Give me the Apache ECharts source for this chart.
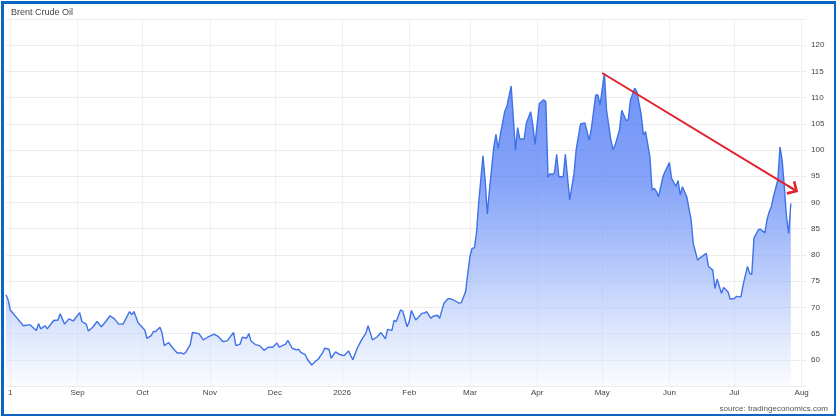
<!DOCTYPE html>
<html>
<head>
<meta charset="utf-8">
<script src="https://cdn.jsdelivr.net/npm/echarts@6/dist/echarts.min.js"></script>
<style>
  html, body { margin: 0; padding: 0; background: #fff; }
  #chart { width: 836px; height: 416px; }
</style>
</head>
<body>
<div id="chart"></div>
<script>
// ---- Data ----
const dates = [
  '2025-07-30','2025-07-31','2025-08-01','2025-08-04','2025-08-07','2025-08-10','2025-08-13','2025-08-14','2025-08-15','2025-08-17',
  '2025-08-18','2025-08-21','2025-08-23','2025-08-24','2025-08-26','2025-08-28','2025-08-30','2025-09-02','2025-09-03','2025-09-05',
  '2025-09-06','2025-09-08','2025-09-10','2025-09-12','2025-09-14','2025-09-16','2025-09-18','2025-09-20','2025-09-22','2025-09-25',
  '2025-09-26','2025-09-27','2025-09-29','2025-10-02','2025-10-03','2025-10-05','2025-10-06','2025-10-07','2025-10-09','2025-10-10',
  '2025-10-11','2025-10-13','2025-10-15','2025-10-17','2025-10-19','2025-10-20','2025-10-21','2025-10-23','2025-10-24','2025-10-27',
  '2025-10-29','2025-10-31','2025-11-03','2025-11-05','2025-11-07','2025-11-09','2025-11-12','2025-11-13','2025-11-15','2025-11-16',
  '2025-11-18','2025-11-19','2025-11-20','2025-11-22','2025-11-24','2025-11-26','2025-11-28','2025-11-30','2025-12-02','2025-12-03',
  '2025-12-06','2025-12-07','2025-12-09','2025-12-11','2025-12-12','2025-12-13','2025-12-15','2025-12-16','2025-12-18','2025-12-20',
  '2025-12-21','2025-12-23','2025-12-24','2025-12-26','2025-12-27','2025-12-29','2025-12-31','2026-01-02','2026-01-04','2026-01-05',
  '2026-01-06','2026-01-08','2026-01-10','2026-01-12','2026-01-13','2026-01-15','2026-01-17','2026-01-19','2026-01-21','2026-01-22',
  '2026-01-24','2026-01-25','2026-01-26','2026-01-28','2026-01-29','2026-01-31','2026-02-01','2026-02-02','2026-02-04','2026-02-05',
  '2026-02-07','2026-02-08','2026-02-09','2026-02-11','2026-02-12','2026-02-14','2026-02-15','2026-02-17','2026-02-19','2026-02-21',
  '2026-02-24','2026-02-25','2026-02-27','2026-02-28','2026-03-01','2026-03-02','2026-03-03','2026-03-04','2026-03-05','2026-03-07',
  '2026-03-08','2026-03-09','2026-03-10','2026-03-12','2026-03-13','2026-03-14','2026-03-15','2026-03-17','2026-03-18','2026-03-20',
  '2026-03-22','2026-03-23','2026-03-24','2026-03-26','2026-03-27','2026-03-29','2026-03-30','2026-03-31','2026-04-02','2026-04-04',
  '2026-04-05','2026-04-06','2026-04-07','2026-04-08','2026-04-09','2026-04-10','2026-04-11','2026-04-13','2026-04-14','2026-04-16',
  '2026-04-18','2026-04-19','2026-04-21','2026-04-23','2026-04-25','2026-04-26','2026-04-28','2026-04-29','2026-04-30','2026-05-02',
  '2026-05-03','2026-05-05','2026-05-06','2026-05-07','2026-05-09','2026-05-10','2026-05-12','2026-05-13','2026-05-14','2026-05-16',
  '2026-05-17','2026-05-19','2026-05-20','2026-05-21','2026-05-23','2026-05-24','2026-05-25','2026-05-26','2026-05-27','2026-05-29',
  '2026-05-30','2026-06-01','2026-06-02','2026-06-04','2026-06-05','2026-06-06','2026-06-07','2026-06-09','2026-06-11','2026-06-12',
  '2026-06-14','2026-06-15','2026-06-18','2026-06-19','2026-06-21','2026-06-22','2026-06-23','2026-06-25','2026-06-26','2026-06-28',
  '2026-06-29','2026-07-01','2026-07-02','2026-07-04','2026-07-05','2026-07-07','2026-07-08','2026-07-09','2026-07-10','2026-07-12',
  '2026-07-13','2026-07-15','2026-07-16','2026-07-17','2026-07-18','2026-07-19','2026-07-21','2026-07-22','2026-07-23','2026-07-24',
  '2026-07-25','2026-07-26','2026-07-27'
];
const brentPrices = [
  72.4,71.4,69.5,68.0,66.5,66.7,65.6,66.9,65.9,66.5,
  65.9,67.5,67.6,68.8,66.8,67.8,67.4,69.0,67.3,66.8,
  65.5,66.2,67.3,66.3,67.3,68.4,67.8,66.8,66.8,69.2,
  68.6,69.2,67.0,65.7,64.1,64.6,65.4,65.4,66.2,65.1,
  62.7,63.3,62.2,61.3,61.3,61.1,61.5,62.9,65.2,65.0,
  63.8,64.3,64.9,64.4,63.5,63.6,65.2,62.7,63.0,64.3,
  64.1,65.0,63.6,62.9,62.7,61.8,62.4,62.4,63.2,62.4,
  63.0,63.7,62.2,61.9,62.0,61.4,61.0,60.1,59.0,59.8,
  60.1,61.3,62.2,62.0,60.3,61.5,61.0,60.8,61.7,60.8,
  60.0,62.2,63.8,65.1,66.5,63.8,64.3,65.2,64.0,65.8,
  65.6,67.5,67.3,69.5,69.3,66.3,67.3,69.4,67.6,68.0,
  68.9,68.9,69.2,67.9,68.3,68.5,67.9,70.8,71.7,71.5,
  70.8,70.9,73.0,76.5,79.7,81.3,81.3,84.1,89.8,98.9,
  94.3,87.8,92.4,100.6,103.0,100.3,102.9,107.3,108.3,112.2,
  100.0,104.3,102.1,102.1,105.1,107.3,104.8,101.1,108.9,109.6,
  109.2,94.8,95.5,95.3,95.7,99.2,94.9,94.9,99.2,90.5,
  95.5,100.1,105.0,105.2,101.9,104.1,110.5,110.5,108.6,114.6,
  107.6,101.9,100.1,101.0,103.9,107.6,105.7,105.7,109.5,111.8,
  111.1,106.7,102.9,103.5,98.7,92.4,92.7,92.1,91.1,94.9,
  95.9,97.6,94.6,93.1,94.2,91.4,93.0,91.1,86.7,82.2,
  79.0,79.4,80.3,77.8,77.1,73.6,75.4,72.7,73.8,73.0,
  71.6,71.7,72.1,72.0,74.3,77.8,76.5,76.3,83.2,84.8,
  84.9,84.2,86.7,88.2,89.2,91.1,94.3,100.6,98.1,93.0,
  87.3,84.1,89.8
];
// month-start ticks and their labels
const tickDates  = ['2025-08-01','2025-09-01','2025-10-01','2025-11-01','2025-12-01','2026-01-01','2026-02-01','2026-03-01','2026-04-01','2026-05-01','2026-06-01','2026-07-01','2026-08-01'];
const tickLabels = ['1','Sep','Oct','Nov','Dec','2026','Feb','Mar','Apr','May','Jun','Jul','Aug'];
// axis range (calendar days) and y range
const axisStartDate = '2025-07-30';
const axisEndDate = '2026-08-03';
const yMin = 55, yMax = 125, yStep = 5;
// trend arrow (data space)
const arrowStart = ['2026-05-01', 114.7];
const arrowEnd = ['2026-07-28', 92.6];

// ---- Build calendar categories ----
function pad(n) { return (n < 10 ? '0' : '') + n; }
const categories = [];
{
  const s = new Date(axisStartDate + 'T00:00:00Z');
  const e = new Date(axisEndDate + 'T00:00:00Z');
  for (let t = s.getTime(); t <= e.getTime(); t += 86400000) {
    const d = new Date(t);
    categories.push(d.getUTCFullYear() + '-' + pad(d.getUTCMonth() + 1) + '-' + pad(d.getUTCDate()));
  }
}
const seriesData = dates.map((d, i) => [categories.indexOf(d), brentPrices[i]]);
const isTick = (idx, val) => tickDates.indexOf(val) >= 0;

// open chevron arrow head with a short stem that continues the line into the tip
const chevron = 'path://M6,0 L12,6 L10.6,7.4 L6.75,3.55 L6.75,9 L5.25,9 L5.25,3.55 L1.4,7.4 L0,6 Z';

const FONT = '"Liberation Sans", Arial, sans-serif';
const chart = echarts.init(document.getElementById('chart'), null, { renderer: 'canvas' });
chart.setOption({
  animation: false,
  backgroundColor: '#ffffff',
  textStyle: { fontFamily: FONT },
  title: {
    text: 'Brent Crude Oil',
    left: 6, top: 3,
    textStyle: { fontSize: 9, fontWeight: 'normal', color: '#444', fontFamily: FONT }
  },
  grid: { left: 6, right: 30, top: 19, bottom: 30, containLabel: false },
  xAxis: {
    type: 'category',
    data: categories,
    boundaryGap: false,
    axisLine: { show: false },
    axisTick: { show: false },
    axisLabel: {
      interval: isTick,
      formatter: (v) => tickLabels[tickDates.indexOf(v)],
      fontSize: 8, color: '#444', margin: 3
    },
    splitLine: { show: true, interval: isTick, lineStyle: { color: '#f0f0f0', width: 1 } }
  },
  yAxis: {
    type: 'value',
    position: 'right',
    min: yMin, max: yMax, interval: yStep,
    axisLine: { show: false },
    axisTick: { show: false },
    axisLabel: { showMinLabel: false, showMaxLabel: false, fontSize: 8, color: '#444', margin: 5 },
    splitLine: { lineStyle: { color: '#ececec', width: 1 } }
  },
  series: [{
    type: 'line',
    data: seriesData,
    showSymbol: false,
    symbol: 'none',
    lineStyle: { color: '#3f72e6', width: 1.4 },
    areaStyle: {
      color: new echarts.graphic.LinearGradient(0, 0, 0, 1, [
        { offset: 0, color: 'rgba(48,100,244,1)' },
        { offset: 0.35, color: 'rgba(82,124,245,1)' },
        { offset: 0.65, color: 'rgba(150,178,248,0.92)' },
        { offset: 0.9, color: 'rgba(210,222,251,0.7)' },
        { offset: 1, color: 'rgba(240,244,254,0.5)' }
      ])
    },
    markLine: {
      silent: true,
      animation: false,
      symbol: ['none', chevron],
      symbolSize: [16, 12],
      label: { show: false },
      emphasis: { disabled: true },
      lineStyle: { color: '#e0232d', width: 2, type: 'solid' },
      data: [[
        { coord: [categories.indexOf(arrowStart[0]), arrowStart[1]] },
        { coord: [categories.indexOf(arrowEnd[0]), arrowEnd[1]] }
      ]]
    }
  }],
  graphic: [
    {
      type: 'text', right: 8, bottom: 3,
      style: { text: 'source: tradingeconomics.com', fontSize: 8, fill: '#555', fontFamily: FONT }
    },
    {
      type: 'rect', left: 0, top: 0, z: 100, silent: true,
      shape: { x: 0, y: 0, width: 833, height: 413 },
      style: { fill: 'none', stroke: '#0b66c3', lineWidth: 3 },
      x: 1.5, y: 1.5
    }
  ]
});
</script>
</body>
</html>
